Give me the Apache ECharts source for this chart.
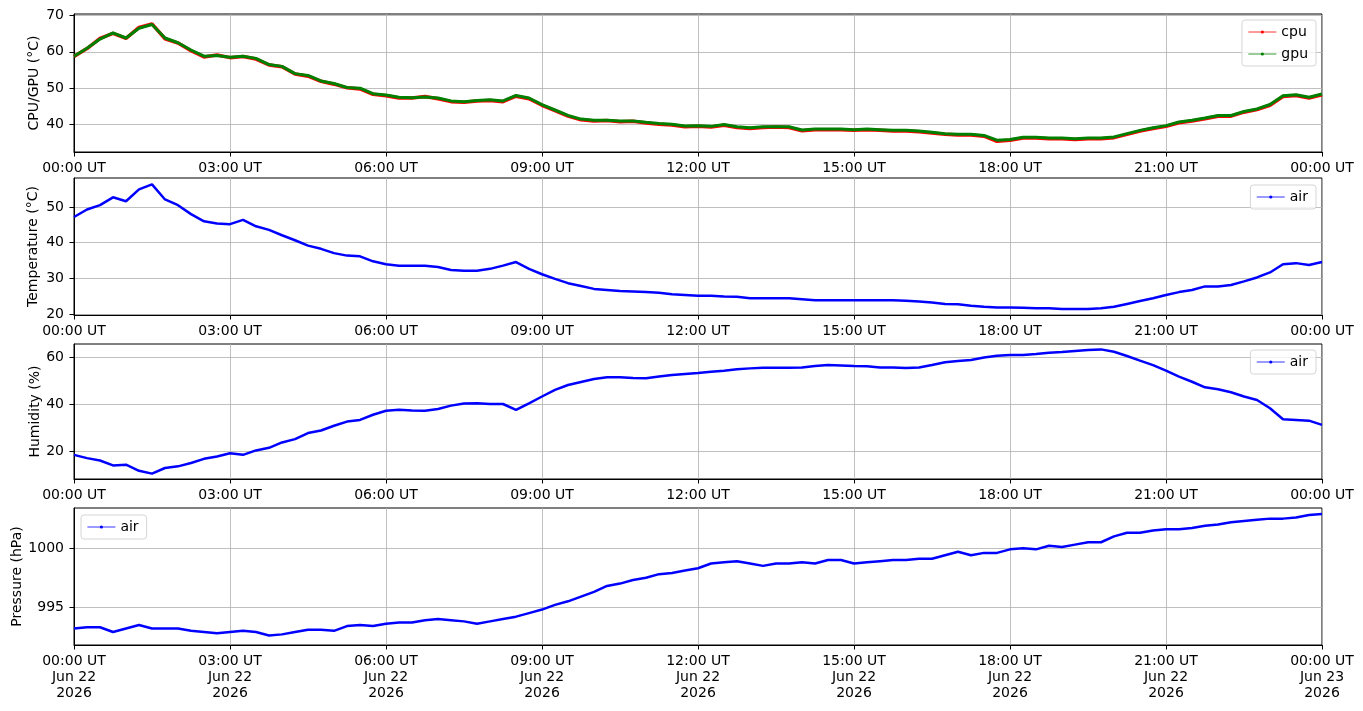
<!DOCTYPE html>
<html>
<head>
<meta charset="utf-8">
<title>sensors</title>
<script src="https://cdn.jsdelivr.net/npm/echarts@6/dist/echarts.min.js"></script>
<style>
  html, body { margin: 0; padding: 0; background: #fff; }
  #main { width: 1363px; height: 711px; }
</style>
</head>
<body>
<div id="main"></div>
<script>
// sample times, hours after 2026-06-22 00:00 UT, every 15 min
var hours = [];
for (var k = 0; k <= 96; k++) hours.push(k / 4);

var timeLabels = ['00:00 UT', '03:00 UT', '06:00 UT', '09:00 UT', '12:00 UT',
                  '15:00 UT', '18:00 UT', '21:00 UT', '00:00 UT'];
var dateLabels = ['Jun 22', 'Jun 22', 'Jun 22', 'Jun 22', 'Jun 22',
                  'Jun 22', 'Jun 22', 'Jun 22', 'Jun 23'];
var yearLabel = '2026';

var cpuTicks = [40, 50, 60, 70];
var tempTicks = [20, 30, 40, 50];
var humTicks = [20, 40, 60];
var presTicks = [995, 1000];

var gpu = [
  58.8, 61.0, 63.5, 65.2, 63.8, 66.5, 67.5, 63.8, 62.5, 60.5, 58.8, 59.0,
  58.5, 58.8, 58.2, 56.5, 56.0, 54.0, 53.5, 52.0, 51.3, 50.2, 50.0, 48.5,
  48.1, 47.5, 47.4, 47.6, 47.3, 46.5, 46.3, 46.6, 46.8, 46.5, 48.0, 47.3,
  45.5, 44.0, 42.5, 41.5, 41.2, 41.2, 41.0, 41.0, 40.6, 40.3, 40.1, 39.6,
  39.7, 39.5, 40.0, 39.4, 39.1, 39.4, 39.4, 39.4, 38.5, 38.8, 38.8, 38.8,
  38.6, 38.8, 38.6, 38.4, 38.4, 38.2, 37.9, 37.5, 37.3, 37.3, 37.0, 35.7,
  35.9, 36.5, 36.5, 36.3, 36.3, 36.1, 36.3, 36.3, 36.6, 37.5, 38.4, 39.1,
  39.7, 40.7, 41.2, 41.8, 42.5, 42.5, 43.6, 44.3, 45.5, 47.9, 48.2, 47.5,
  48.4
];
var cpu = [
  58.7, 60.9, 63.7, 65.1, 63.7, 66.7, 67.7, 63.6, 62.4, 60.3, 58.6, 59.1,
  58.4, 58.7, 58.0, 56.4, 55.9, 53.9, 53.3, 51.9, 51.1, 50.1, 49.8, 48.3,
  47.9, 47.3, 47.3, 47.7, 47.1, 46.3, 46.1, 46.5, 46.6, 46.3, 47.8, 47.1,
  45.3, 43.8, 42.3, 41.3, 41.0, 41.1, 40.8, 40.9, 40.4, 40.1, 39.9, 39.4,
  39.5, 39.3, 39.8, 39.2, 38.9, 39.2, 39.3, 39.2, 38.3, 38.6, 38.6, 38.6,
  38.4, 38.6, 38.4, 38.2, 38.2, 38.0, 37.7, 37.3, 37.1, 37.1, 36.8, 35.4,
  35.7, 36.3, 36.3, 36.1, 36.1, 35.9, 36.1, 36.1, 36.4, 37.3, 38.2, 38.9,
  39.5, 40.5, 41.0, 41.6, 42.3, 42.3, 43.4, 44.1, 45.3, 47.7, 48.0, 47.3,
  48.2
];
var temperature = [
  47.2, 49.3, 50.5, 52.7, 51.6, 54.9, 56.3, 52.1, 50.5, 48.0, 46.0, 45.4,
  45.2, 46.4, 44.6, 43.6, 42.1, 40.7, 39.2, 38.3, 37.1, 36.4, 36.2, 34.8,
  34.0, 33.6, 33.6, 33.6, 33.2, 32.4, 32.2, 32.2, 32.7, 33.6, 34.6, 32.7,
  31.2, 29.9, 28.7, 27.9, 27.1, 26.8, 26.5, 26.4, 26.2, 26.0, 25.6, 25.4,
  25.2, 25.2, 25.0, 24.9, 24.5, 24.5, 24.5, 24.5, 24.2, 23.9, 23.9, 23.9,
  23.9, 23.9, 23.9, 23.9, 23.8, 23.6, 23.3, 22.9, 22.8, 22.4, 22.1, 21.9,
  21.9, 21.8, 21.7, 21.7, 21.5, 21.5, 21.5, 21.7, 22.1, 22.9, 23.7, 24.5,
  25.4, 26.2, 26.8, 27.8, 27.8, 28.2, 29.2, 30.3, 31.7, 34.0, 34.3, 33.8,
  34.6
];
var humidity = [
  18.4, 17.0, 16.0, 13.9, 14.2, 11.6, 10.4, 12.8, 13.5, 14.9, 16.7, 17.7,
  19.1, 18.4, 20.3, 21.4, 23.7, 25.1, 27.7, 28.8, 30.8, 32.6, 33.3, 35.5,
  37.2, 37.6, 37.3, 37.2, 38.0, 39.4, 40.3, 40.4, 40.1, 40.1, 37.6, 40.4,
  43.3, 46.1, 48.2, 49.5, 50.8, 51.5, 51.5, 51.2, 51.1, 51.8, 52.5, 52.9,
  53.3, 53.9, 54.3, 54.9, 55.3, 55.6, 55.6, 55.6, 55.7, 56.3, 56.7, 56.5,
  56.3, 56.2, 55.7, 55.7, 55.5, 55.7, 56.7, 57.9, 58.4, 58.9, 59.9, 60.7,
  61.0, 61.0, 61.4, 62.0, 62.3, 62.7, 63.1, 63.4, 62.4, 60.6, 58.6, 56.7,
  54.3, 51.8, 49.6, 47.2, 46.4, 45.1, 43.3, 41.8, 38.3, 33.6, 33.3, 33.0,
  31.2
];
var pressure = [
  993.2, 993.3, 993.3, 992.9, 993.2, 993.5, 993.2, 993.2, 993.2, 993.0, 992.9, 992.8,
  992.9, 993.0, 992.9, 992.6, 992.7, 992.9, 993.1, 993.1, 993.0, 993.4, 993.5, 993.4,
  993.6, 993.7, 993.7, 993.9, 994.0, 993.9, 993.8, 993.6, 993.8, 994.0, 994.2, 994.5,
  994.8, 995.2, 995.5, 995.9, 996.3, 996.8, 997.0, 997.3, 997.5, 997.8, 997.9, 998.1,
  998.3, 998.7, 998.8, 998.9, 998.7, 998.5, 998.7, 998.7, 998.8, 998.7, 999.0, 999.0,
  998.7, 998.8, 998.9, 999.0, 999.0, 999.1, 999.1, 999.4, 999.7, 999.4, 999.6, 999.6,
  999.9, 1000.0, 999.9, 1000.2, 1000.1, 1000.3, 1000.5, 1000.5, 1001.0, 1001.3, 1001.3, 1001.5,
  1001.6, 1001.6, 1001.7, 1001.9, 1002.0, 1002.2, 1002.3, 1002.4, 1002.5, 1002.5, 1002.6, 1002.8,
  1002.9
];

function pairs(vals) {
  return vals.map(function (v, i) { return [hours[i], v]; });
}

var font = 'DejaVu Sans';
var gridColor = '#b0b0b0';

function xAxis(idx, full) {
  return {
    type: 'value', gridIndex: idx, min: 0, max: 24, interval: 3,
    axisLine: { show: true, onZero: false, lineStyle: { color: '#000', width: 1 } },
    axisTick: { show: true, length: 4.5, lineStyle: { color: '#000' } },
    splitLine: { show: true, lineStyle: { color: gridColor, width: 0.8 } },
    axisLabel: {
      color: '#000', fontFamily: font, fontSize: 14, margin: 8,
      showMinLabel: true, showMaxLabel: true, lineHeight: 16,
      formatter: function (v) {
        var i = Math.round(v / 3);
        if (full) return timeLabels[i] + '\n' + dateLabels[i] + '\n' + yearLabel;
        return timeLabels[i];
      }
    }
  };
}

function yAxis(idx, min, max, ticks, name, gap) {
  return {
    type: 'value', gridIndex: idx, min: min, max: max,
    name: name, nameLocation: 'middle', nameGap: gap, nameMoveOverlap: false,
    nameTextStyle: { color: '#000', fontFamily: font, fontSize: 14 },
    axisLine: { show: true, lineStyle: { color: '#000', width: 1 } },
    axisTick: { show: true, length: 4.5, lineStyle: { color: '#000' }, customValues: ticks },
    axisLabel: {
      color: '#000', fontFamily: font, fontSize: 14, margin: 10, customValues: ticks,
      formatter: function (v) { return String(v); }
    },
    splitLine: { show: true, lineStyle: { color: gridColor, width: 0.8 } }
  };
}

function legend(names, pos) {
  var l = {
    data: names, orient: 'vertical',
    itemWidth: 28, itemHeight: 4, itemGap: 8,
    padding: [5, 8, 5, 6],
    borderColor: '#d5d5d5', borderWidth: 1, borderRadius: 3,
    backgroundColor: 'rgba(255,255,255,0.8)',
    lineStyle: { width: 0.8 },
    textStyle: { color: '#000', fontFamily: font, fontSize: 14 },
    selectedMode: false
  };
  for (var key in pos) l[key] = pos[key];
  return l;
}

function line(name, vals, idx, color, width) {
  return {
    name: name, type: 'line', xAxisIndex: idx, yAxisIndex: idx,
    data: pairs(vals), color: color,
    showSymbol: false, symbol: 'circle', symbolSize: 3,
    lineStyle: { color: color, width: width },
    itemStyle: { color: color },
    animation: false
  };
}

function grid(top, height) {
  return {
    left: 74, right: 41, top: top, height: height,
    show: true, borderColor: '#000', borderWidth: 1,
    containLabel: false, outerBoundsMode: 'none'
  };
}

var myChart = echarts.init(document.getElementById('main'));

var option = {
  animation: false,
  textStyle: { fontFamily: font },
  grid: [grid(14, 138), grid(178, 137), grid(344, 135), grid(508, 137)],
  xAxis: [xAxis(0, false), xAxis(1, false), xAxis(2, false), xAxis(3, true)],
  yAxis: [
    yAxis(0, 32.45, 70.4, cpuTicks, 'CPU/GPU (°C)', 33),
    yAxis(1, 19.8, 58.1, tempTicks, 'Temperature (°C)', 34),
    yAxis(2, 8.1, 65.7, humTicks, 'Humidity (%)', 32),
    yAxis(3, 991.8, 1003.4, presTicks, 'Pressure (hPa)', 50)
  ],
  legend: [
    legend(['cpu', 'gpu'], { right: 47, top: 20 }),
    legend(['air'], { right: 47, top: 185 }),
    legend(['air'], { right: 47, top: 350 }),
    legend(['air'], { left: 81, top: 515 })
  ],
  series: [
    line('cpu', cpu, 0, '#ff0000', 3.5),
    line('gpu', gpu, 0, '#008000', 3),
    line('air', temperature, 1, '#0000ff', 2.5),
    line('air', humidity, 2, '#0000ff', 2.5),
    line('air', pressure, 3, '#0000ff', 2.5)
  ]
};

myChart.setOption(option);
</script>
</body>
</html>
